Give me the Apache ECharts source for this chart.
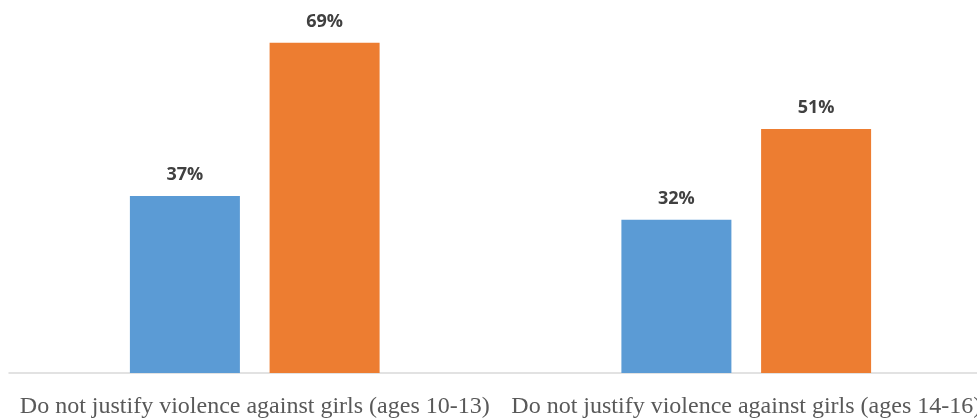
<!DOCTYPE html>
<html>
<head>
<meta charset="utf-8">
<script src="https://cdn.jsdelivr.net/npm/echarts@6/dist/echarts.min.js"></script>
<style>
  html, body { margin: 0; padding: 0; background: #ffffff; overflow: hidden; }
  /* plot runs slightly past the right edge of the page, as in the exported figure */
  #chart { width: 1000px; height: 419px; }
</style>
</head>
<body>
<div id="chart"></div>
<script>
// Share of respondents who do not justify violence against girls, by age group
const categories = [
  'Do not justify violence against girls (ages 10-13)',
  'Do not justify violence against girls (ages 14-16)'
];
const seriesA = [37, 32];
const seriesB = [69, 51];

const chart = echarts.init(document.getElementById('chart'));

const valueLabel = {
  show: true,
  position: 'top',
  distance: 12,
  formatter: '{c}%',
  fontFamily: '"Open Sans", sans-serif',
  fontWeight: 'bold',
  fontSize: 18,
  color: '#404040'
};

chart.setOption({
  animation: false,
  grid: { left: 9, right: 8, top: 14, bottom: 44, containLabel: false },
  xAxis: {
    type: 'category',
    data: categories,
    axisLine: { show: true, lineStyle: { color: '#D9D9D9', width: 1.5 } },
    axisTick: { show: false },
    axisLabel: {
      interval: 0,
      margin: 22,
      fontFamily: '"Liberation Serif", "Times New Roman", serif',
      fontSize: 24,
      color: '#595959'
    }
  },
  yAxis: {
    type: 'value',
    min: 0,
    max: 75,
    show: false,
    splitLine: { show: false }
  },
  series: [
    {
      type: 'bar',
      data: seriesA,
      barWidth: 110,
      barGap: '27%',
      itemStyle: { color: '#5B9BD5' },
      label: valueLabel
    },
    {
      type: 'bar',
      data: seriesB,
      barWidth: 110,
      itemStyle: { color: '#ED7D31' },
      label: valueLabel
    }
  ]
});
</script>
</body>
</html>
